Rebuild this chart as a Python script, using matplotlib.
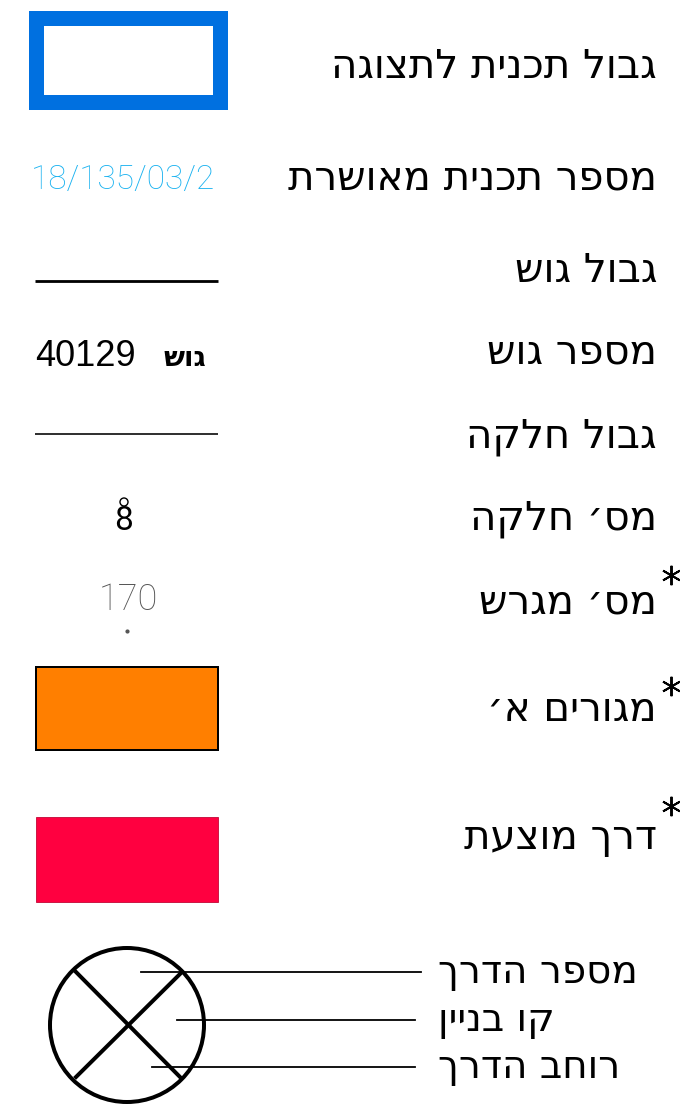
import re
import matplotlib
matplotlib.use('Agg')
import matplotlib.pyplot as plt
from matplotlib.patches import Rectangle, Ellipse

# legend content (logical Hebrew order)
labels = ["גבול תכנית לתצוגה", "מספר תכנית מאושרת", "גבול גוש", "מספר גוש",
          "גבול חלקה", "מס׳ חלקה", "מס׳ מגרש", "מגורים א׳", "דרך מוצעת"]
starred = [False, False, False, False, False, False, True, True, True]
plan_no = "18/135/03/2"
block_no = "40129"
block_word = "גוש"
parcel_no = "8"
lot_no = "170"
road_labels = ["מספר הדרך", "קו בניין", "רוחב הדרך"]

# layout (pixels, y downwards)
row_y = [67, 179, 271, 352, 437, 518, 603, 710, 838]
star_y = [None] * 6 + [575, 686, 806]
road_y = [972, 1020, 1067]

HEB = ['Liberation Sans Narrow', 'DejaVu Sans']


def vis(s):
    # matplotlib has no bidi: reverse, then restore digit runs
    r = s[::-1]
    return re.sub(r'[0-9/]+', lambda m: m.group(0)[::-1], r)


def px(v):
    return v * 72 / 100


fig = plt.figure(figsize=(6.8, 11.06), dpi=100)
ax = fig.add_axes([0, 0, 1, 1])
ax.set_xlim(0, 680)
ax.set_ylim(1106, 0)
ax.axis('off')

# labels on the right
for lab, y in zip(labels, row_y):
    ax.text(657, y, vis(lab), ha='right', va='center', fontsize=29,
            family=HEB, color='black')
for y in star_y:
    if y is not None:
        ax.plot(671, y, marker=(6, 2, 0), ms=14, mew=1.4, color='black')

# symbols on the left
ax.add_patch(Rectangle((35.5, 17.5), 184, 84, fill=False, ec='#0070e0', lw=px(15)))

ax.text(123, 180, plan_no, ha='center', va='center', fontsize=24,
        family='Roboto', fontweight='light', color='#1ab2f0')

ax.plot([35, 218], [281, 281], color='black', lw=px(2.8), solid_capstyle='butt')

ax.text(35, 357, block_no, ha='left', va='center', fontsize=26,
        family='Liberation Sans', color='black')
ax.text(206, 358, vis(block_word), ha='right', va='center', fontsize=20,
        family=HEB, fontweight='bold', color='black')

ax.plot([35, 218], [434, 434], color='black', lw=px(1.6), solid_capstyle='butt')

ax.text(124, 521, parcel_no, ha='center', va='center', fontsize=24,
        family='Roboto', color='black')
ax.add_patch(Ellipse((124, 502), 8, 8, fill=False, ec='black', lw=px(1.4)))

ax.text(128, 600, lot_no, ha='center', va='center', fontsize=26,
        family='Roboto', fontweight='light', color='#555555')
ax.plot(127, 631, 'o', ms=2, color='#555555')

ax.add_patch(Rectangle((36, 667), 182, 83, fc='#ff7f00', ec='black', lw=px(2)))
ax.add_patch(Rectangle((36, 817), 182, 85, fc='#ff0040', ec='#c00030', lw=px(0.8)))

# road symbol
ax.add_patch(Ellipse((127, 1025), 154, 154, fill=False, ec='black', lw=px(4)))
ax.plot([76, 181], [972, 1078], color='black', lw=px(4))
ax.plot([76, 182], [1077, 972], color='black', lw=px(4))
for (x0, x1), y in zip([(141, 421), (177, 415), (152, 415)], road_y):
    ax.plot([x0, x1], [y, y], color='black', lw=px(1.8))
for lab, y in zip(road_labels, road_y):
    ax.text(438, y, vis(lab), ha='left', va='center', fontsize=28,
            family=HEB, color='black')

plt.savefig('out.png', dpi=100)
